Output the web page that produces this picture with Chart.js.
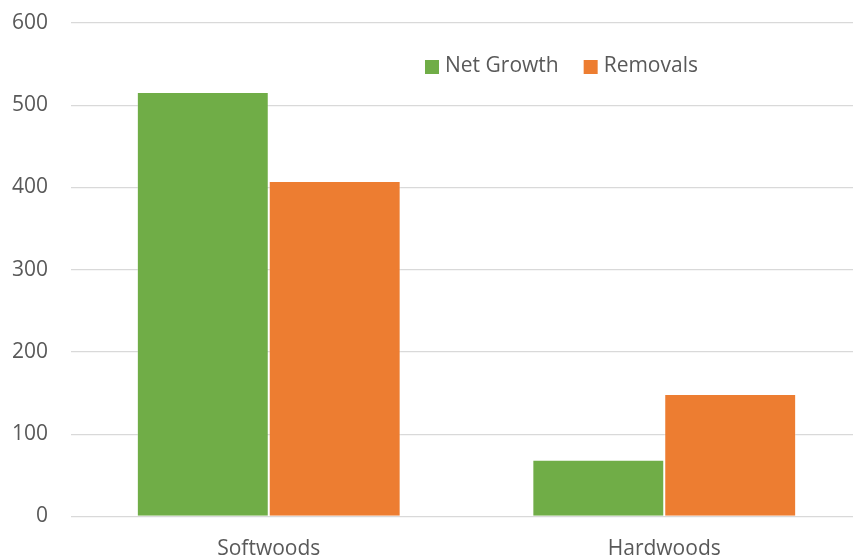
<!DOCTYPE html>
<html>
<head>
<meta charset="utf-8">
<script src="https://cdn.jsdelivr.net/npm/chart.js@4/dist/chart.umd.min.js"></script>
<style>
  html, body { margin: 0; padding: 0; background: #ffffff; overflow: hidden; }
  #wrap { position: relative; width: 862px; height: 556px; }
</style>
</head>
<body>
<div id="wrap"><canvas id="chart"></canvas></div>
<script>
// Wood volume by type
const categories = ['Softwoods', 'Hardwoods'];
const seriesNames = ['Net Growth', 'Removals'];
const netGrowth = [516, 69];
const removals = [408, 149];
const yTicks = [0, 100, 200, 300, 400, 500, 600];

const GREEN = '#70AD47';
const ORANGE = '#ED7D31';
const TEXT = '#595959';
const FONT = "'Open Sans', sans-serif";

// Legend drawn inside the plot area, upper right
const insideLegend = {
  id: 'insideLegend',
  afterDraw(chart) {
    const ctx = chart.ctx;
    const area = chart.chartArea;
    ctx.save();
    ctx.font = '21px ' + FONT;
    ctx.textBaseline = 'middle';
    ctx.textAlign = 'left';
    let x = area.left + 354;
    const y = area.top + 43;
    chart.data.datasets.forEach((ds) => {
      ctx.fillStyle = ds.backgroundColor;
      ctx.fillRect(x, y - 6, 14, 14);
      ctx.fillStyle = TEXT;
      ctx.fillText(ds.label, x + 20, y);
      x += 20 + ctx.measureText(ds.label).width + 25;
    });
    ctx.restore();
  }
};

new Chart(document.getElementById('chart'), {
  type: 'bar',
  data: {
    labels: categories,
    datasets: [
      { label: seriesNames[0], data: netGrowth, backgroundColor: GREEN,
        borderColor: 'rgba(255,255,255,0.25)', borderWidth: 1 },
      { label: seriesNames[1], data: removals, backgroundColor: ORANGE,
        borderColor: 'rgba(255,255,255,0.25)', borderWidth: 1 }
    ]
  },
  options: {
    responsive: true,
    maintainAspectRatio: false,
    animation: false,
    layout: { padding: { top: 23, right: 0, bottom: 0, left: 0 } },
    plugins: {
      legend: { display: false },
      tooltip: { enabled: false }
    },
    datasets: {
      bar: { categoryPercentage: 0.667, barPercentage: 1.0 }
    },
    scales: {
      x: {
        grid: { display: false },
        border: { display: false },
        ticks: { color: TEXT, font: { family: FONT, size: 21 }, padding: 12 },
        afterFit(scale) { scale.height = 39.5; scale.paddingLeft = 0; scale.paddingRight = 0; }
      },
      y: {
        min: 0,
        max: 600,
        afterBuildTicks(scale) { scale.ticks = yTicks.map(v => ({ value: v })); },
        grid: { color: '#D9D9D9', lineWidth: 1.3, drawTicks: false },
        border: { display: false },
        ticks: { color: TEXT, font: { family: FONT, size: 21 }, padding: 23 },
        afterFit(scale) { scale.width = 71; scale.paddingTop = 0; scale.paddingBottom = 0; }
      }
    }
  },
  plugins: [insideLegend]
});
</script>
</body>
</html>
